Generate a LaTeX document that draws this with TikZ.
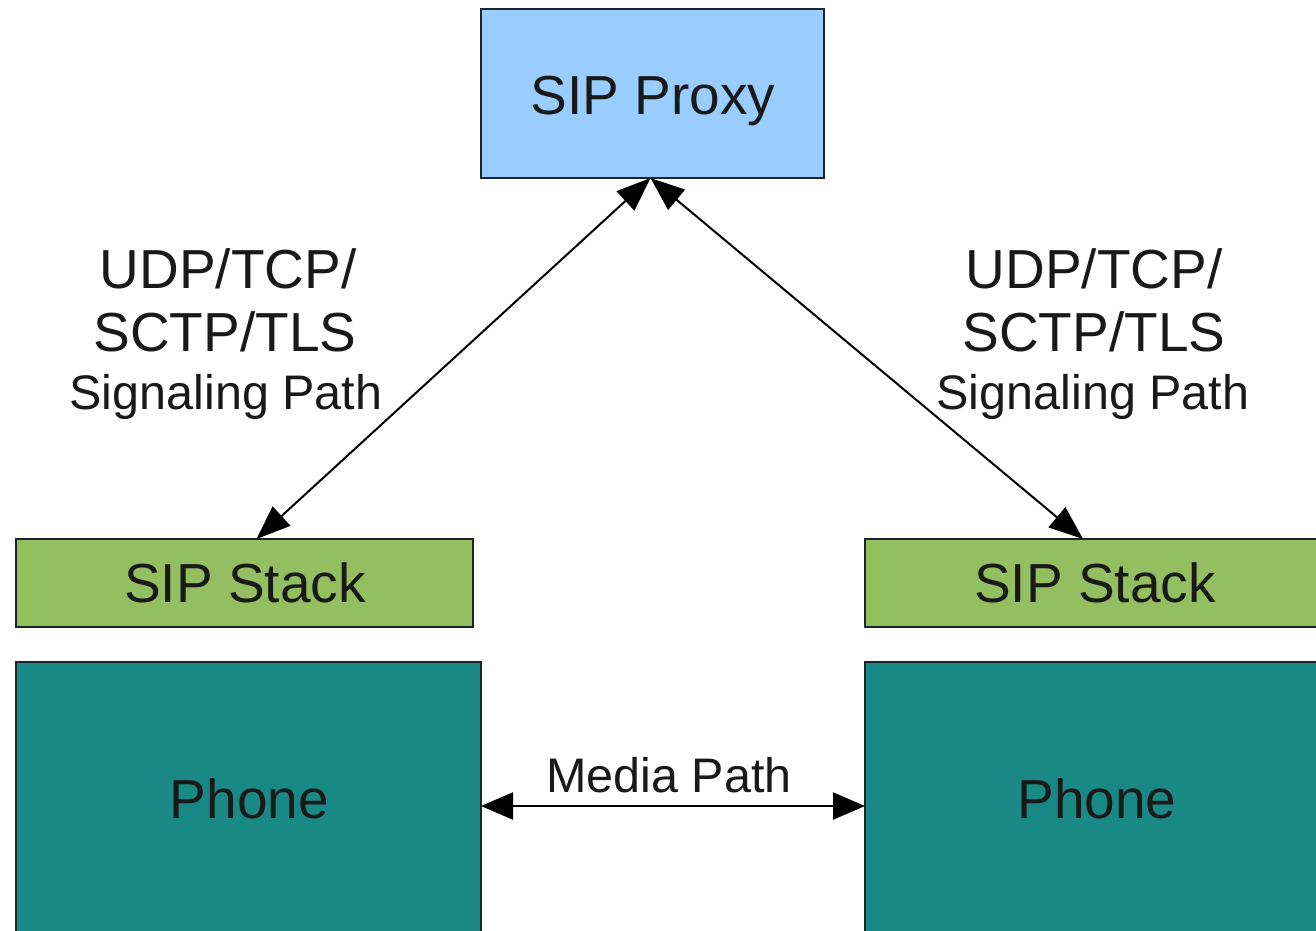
\documentclass[tikz,border=0pt]{standalone}
\usepackage{fontspec}
\setmainfont{Liberation Sans}
\usetikzlibrary{arrows.meta}
\definecolor{proxyfill}{RGB}{153,204,255}
\definecolor{stackfill}{RGB}{147,191,96}
\definecolor{phonefill}{RGB}{25,137,134}
\definecolor{edgecol}{RGB}{28,36,40}
\tikzset{
  box/.style={draw=edgecol, line width=2.4pt, inner sep=0pt, outer sep=0pt},
  proxybox/.style={box, fill=proxyfill},
  stackbox/.style={box, fill=stackfill},
  phonebox/.style={box, fill=phonefill},
  bigtext/.style={anchor=base, inner sep=0pt, font=\fontsize{55}{60}\selectfont, text=black!90},
  smalltext/.style={anchor=base, inner sep=0pt, font=\fontsize{48.5}{54}\selectfont, text=black!90},
  conn/.style={line width=2pt, black, {Triangle[length=34pt,width=26pt]}-{Triangle[length=34pt,width=26pt]}},
  mediaconn/.style={line width=2.2pt, black, {Triangle[length=32pt,width=27pt]}-{Triangle[length=32pt,width=27pt]}}
}
\begin{document}
\begin{tikzpicture}[x=1pt,y=-1pt]
\clip (0,0) rectangle (1316,930);
\fill[white] (0,0) rectangle (1316,930);
% boxes
\node[proxybox, minimum width=343pt, minimum height=169pt] (proxy) at (652.5,93.5) {};
\node[stackbox, minimum width=457pt, minimum height=88pt] (stackL) at (244.5,583) {};
\node[stackbox, minimum width=460pt, minimum height=88pt] (stackR) at (1095,583) {};
\node[phonebox, minimum width=465pt, minimum height=278pt] (phoneL) at (248.5,801) {};
\node[phonebox, minimum width=465pt, minimum height=278pt] (phoneR) at (1097.5,801) {};
% box texts
\node[bigtext] (proxyT) at (653,114) {SIP Proxy};
\node[bigtext] (stackLT) at (245,602) {SIP Stack};
\node[bigtext] (stackRT) at (1095,602) {SIP Stack};
\node[bigtext] (phoneLT) at (249.5,818) {Phone};
\node[bigtext] (phoneRT) at (1097,818) {Phone};
% signaling labels
\node[bigtext] (l1) at (228,288) {UDP/TCP/};
\node[bigtext] (l2) at (225,351) {SCTP/TLS};
\node[smalltext] (l3) at (226,409) {Signaling Path};
\node[bigtext] (r1) at (1094,288) {UDP/TCP/};
\node[bigtext] (r2) at (1094,351) {SCTP/TLS};
\node[smalltext] (r3) at (1093,409) {Signaling Path};
\node[smalltext] (media) at (669,792) {Media Path};
% connectors
\coordinate (ptop) at ([xshift=-2pt]proxy.south);
\coordinate (tipL) at ([xshift=12pt]stackL.north);
\coordinate (tipR) at ([xshift=-12pt]stackR.north);
\draw[conn] (ptop) -- (tipL);
\draw[conn] (ptop) -- (tipR);
\draw[mediaconn] ([yshift=-5pt]phoneL.east) -- ([yshift=-5pt]phoneR.west);
\end{tikzpicture}
\end{document}
